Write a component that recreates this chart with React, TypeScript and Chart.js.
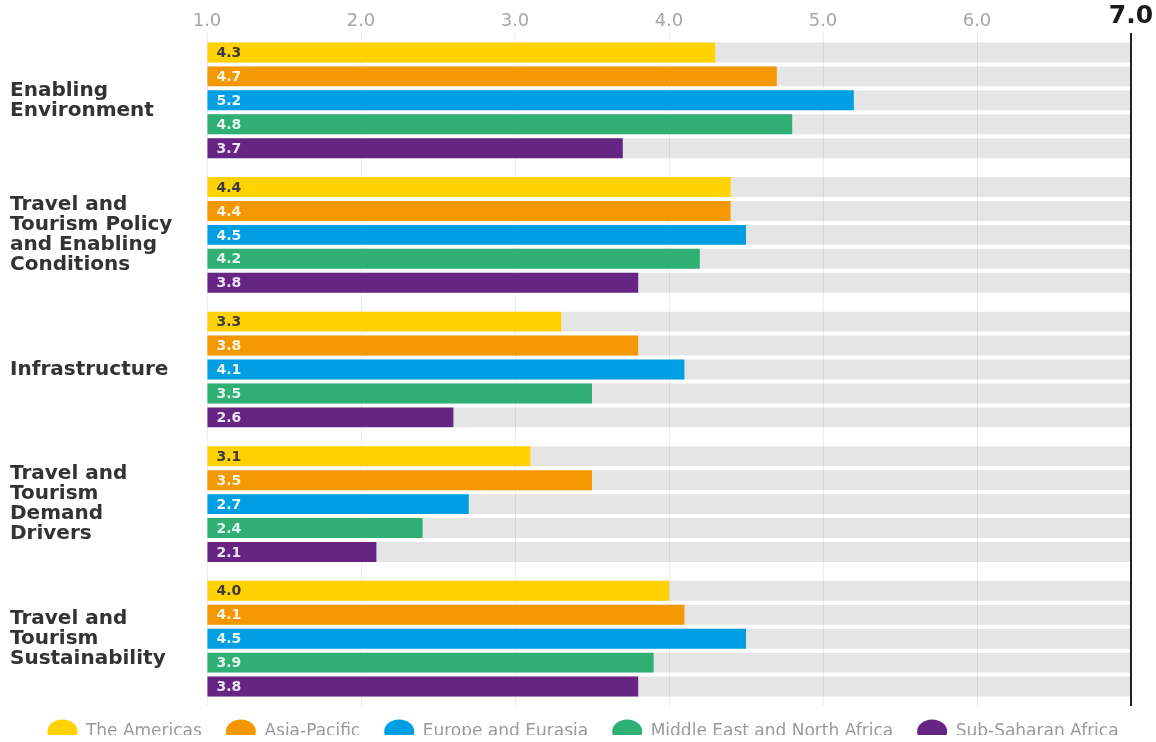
import React, { useEffect, useRef } from "react";
import { Chart, registerables } from "chart.js";

Chart.register(...registerables);

// ---------- data ----------
const categories: string[][] = [
  ["Enabling", "Environment"],
  ["Travel and", "Tourism Policy", "and Enabling", "Conditions"],
  ["Infrastructure"],
  ["Travel and", "Tourism", "Demand", "Drivers"],
  ["Travel and", "Tourism", "Sustainability"],
];
const seriesNames = [
  "The Americas",
  "Asia-Pacific",
  "Europe and Eurasia",
  "Middle East and North Africa",
  "Sub-Saharan Africa",
];
const americas = [4.3, 4.4, 3.3, 3.1, 4.0];
const asiaPacific = [4.7, 4.4, 3.8, 3.5, 4.1];
const europeEurasia = [5.2, 4.5, 4.1, 2.7, 4.5];
const middleEastNorthAfrica = [4.8, 4.2, 3.5, 2.4, 3.9];
const subSaharanAfrica = [3.7, 3.8, 2.6, 2.1, 3.8];
const fullScale = [7, 7, 7, 7, 7];
const scaleMin = 1;
const scaleMax = 7;

const seriesValues = [americas, asiaPacific, europeEurasia, middleEastNorthAfrica, subSaharanAfrica];
const seriesColors = ["#FFD200", "#F39800", "#009FE3", "#2FAF73", "#662483"];
const valueLabelColors = [
  "#3a3a3a",
  "rgba(255,255,255,0.88)",
  "rgba(255,255,255,0.92)",
  "rgba(255,255,255,0.88)",
  "rgba(255,255,255,0.88)",
];
const FONT = "'DejaVu Sans', 'Liberation Sans', Arial, sans-serif";

const legendFitPlugin = {
  id: "legendFit",
  beforeLayout(chart: any) {
    const lg = chart.legend;
    if (lg && !lg.__patched) {
      const orig = lg.fit.bind(lg);
      lg.fit = function () {
        orig();
        this.height = 36;
      };
      lg.__patched = true;
    }
  },
  afterLayout(chart: any) {
    const lg = chart.legend;
    if (lg) {
      lg.top -= 7;
      lg.bottom -= 7;
    }
  },
};

const valueLabelPlugin = {
  id: "valueLabels",
  afterDatasetsDraw(chart: any) {
    const ctx = chart.ctx;
    ctx.save();
    ctx.font = `bold 14px ${FONT}`;
    ctx.textBaseline = "middle";
    ctx.textAlign = "left";
    for (let i = 0; i < seriesValues.length; i++) {
      const meta = chart.getDatasetMeta(i);
      const data = chart.data.datasets[i].data as number[];
      meta.data.forEach((bar: any, j: number) => {
        ctx.fillStyle = valueLabelColors[i];
        ctx.fillText(Number(data[j]).toFixed(1), bar.base + 9, bar.y + 1);
      });
    }
    ctx.restore();
  },
};

export default function App() {
  const ref = useRef<HTMLCanvasElement>(null);

  useEffect(() => {
    const fg = seriesValues.map((vals, i) => ({
      label: seriesNames[i],
      data: vals,
      backgroundColor: seriesColors[i],
      borderWidth: 0,
      stack: "s" + i,
      base: scaleMin,
      order: 0,
      categoryPercentage: 0.889,
      barPercentage: 0.833,
    }));
    const bg = seriesValues.map((_, i) => ({
      label: "track" + i,
      data: fullScale,
      backgroundColor: "rgba(0,0,0,0.1)",
      borderWidth: 0,
      stack: "s" + i,
      base: scaleMin,
      order: 1,
      categoryPercentage: 0.889,
      barPercentage: 0.833,
    }));

    const chart = new Chart(ref.current as HTMLCanvasElement, {
      type: "bar",
      data: {
        labels: categories as any,
        datasets: [...fg, ...bg] as any,
      },
      plugins: [legendFitPlugin, valueLabelPlugin],
      options: {
        indexAxis: "y",
        animation: false,
        responsive: true,
        maintainAspectRatio: false,
        events: [],
        layout: { padding: { left: 10, right: 0, top: 0, bottom: 0 } },
        scales: {
          x: {
            type: "linear",
            position: "top",
            min: scaleMin,
            max: scaleMax,
            stacked: false,
            beginAtZero: false,
            border: { display: false },
            grid: {
              drawTicks: false,
              color: (c: any) => (c.tick && c.tick.value === scaleMax ? "#222222" : "rgba(0,0,0,0.07)"),
              lineWidth: (c: any) => (c.tick && c.tick.value === scaleMax ? 2 : 1),
            },
            ticks: {
              stepSize: 1,
              padding: 0,
              callback: (v: any) => Number(v).toFixed(1),
              color: (c: any) => (c.tick && c.tick.value === scaleMax ? "#1a1a1a" : "#a5a5a5"),
              font: (c: any) =>
                c.tick && c.tick.value === scaleMax
                  ? { family: FONT, size: 25, weight: "bold", lineHeight: 1.32 }
                  : { family: FONT, size: 18, weight: "normal", lineHeight: 1.333 },
            },
            afterFit: (s: any) => {
              s.height = 32;
              s.paddingRight = 25;
            },
          } as any,
          y: {
            type: "category",
            grid: { display: false },
            border: { display: false },
            ticks: {
              crossAlign: "far",
              color: "#333333",
              font: { family: FONT, size: 20, weight: "bold", lineHeight: 1.0 },
            },
            afterFit: (s: any) => {
              s.width = 197;
            },
          } as any,
        },
        plugins: {
          tooltip: { enabled: false },
          legend: {
            display: true,
            position: "bottom",
            labels: {
              filter: (item: any) => item.datasetIndex < seriesValues.length,
              usePointStyle: true,
              pointStyle: "circle",
              pointStyleWidth: 30,
              boxHeight: 17,
              padding: 24,
              color: "#9a9a9a",
              font: { family: FONT, size: 17, weight: "normal" },
            },
          } as any,
        },
      },
    });
    return () => chart.destroy();
  }, []);

  return (
    <div style={{ position: "absolute", left: 0, top: 0, width: 1156, height: 742, background: "#ffffff" }}>
      <canvas ref={ref} />
    </div>
  );
}
